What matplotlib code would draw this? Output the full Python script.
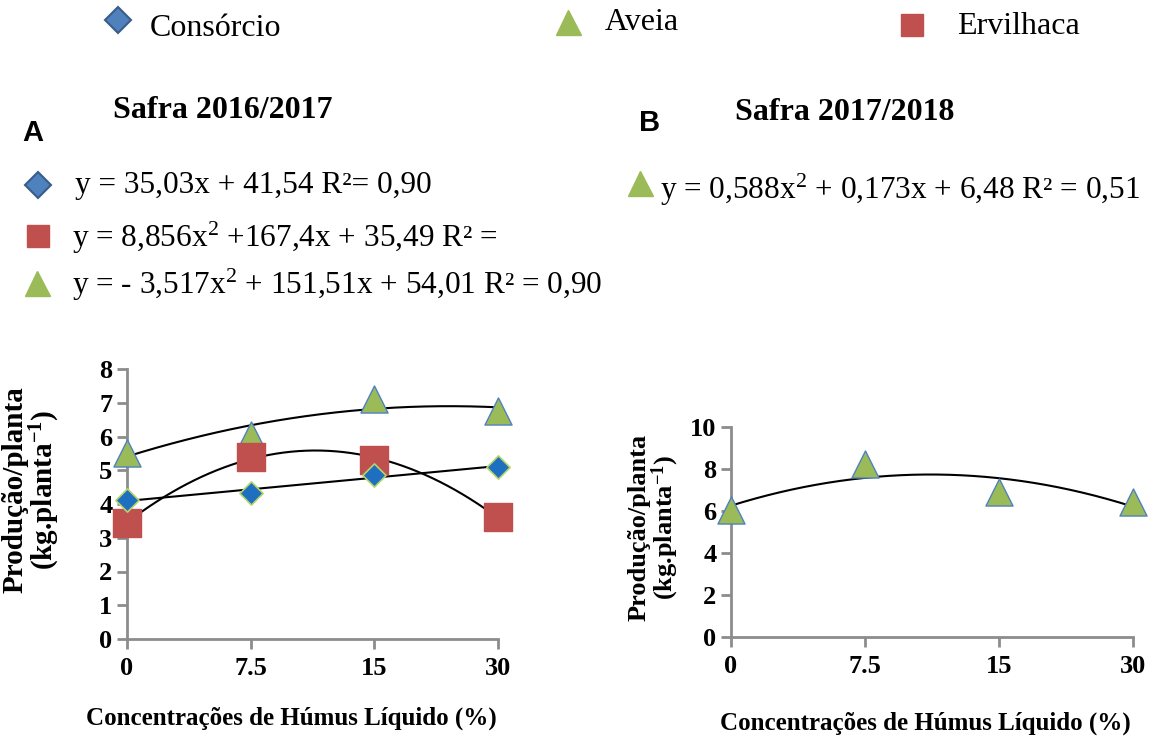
import matplotlib
matplotlib.use("Agg")
import matplotlib.pyplot as plt
import numpy as np

plt.rcParams['font.family'] = ['Liberation Serif', 'DejaVu Serif']
plt.rcParams['mathtext.fontset'] = 'custom'
plt.rcParams['mathtext.rm'] = 'Liberation Serif'
plt.rcParams['mathtext.bf'] = 'Liberation Serif:bold'
plt.rcParams['mathtext.default'] = 'rm'

# dados
concentracoes = ["0", "7.5", "15", "30"]
consorcio_a = [4.13, 4.33, 4.87, 5.10]
aveia_a = [5.50, 6.05, 7.10, 6.77]
ervilhaca_a = [3.43, 5.40, 5.31, 3.61]
aveia_b = [6.04, 8.22, 6.92, 6.42]

azul = "#1F6FC0"
verde = "#9BBB59"
vermelho = "#C0504D"
cinza = "#8C8C8C"

fig = plt.figure(figsize=(11.55, 7.42), dpi=100)


def px(x, y):
    return x / 1155, 1 - y / 742


def estilo_eixo(ax, ymax, passo):
    ax.set_xlim(0, 3)
    ax.set_ylim(0, ymax)
    ax.set_xticks(range(4))
    ax.set_xticklabels(concentracoes)
    ax.set_yticks(np.arange(0, ymax + 0.1, passo))
    for s in ["top", "right"]:
        ax.spines[s].set_visible(False)
    for s in ["left", "bottom"]:
        ax.spines[s].set_color(cinza)
        ax.spines[s].set_linewidth(2)
    ax.tick_params(colors=cinza, width=2, length=7, labelcolor="black",
                   labelsize=19)
    ax.tick_params(axis="x", pad=6)
    for lb in ax.get_xticklabels() + ax.get_yticklabels():
        lb.set_fontweight("bold")


def tendencia(ax, y, grau):
    xs = np.arange(len(y))
    coef = np.polyfit(xs, y, grau)
    xx = np.linspace(0, len(y) - 1, 200)
    ax.plot(xx, np.polyval(coef, xx), color="black", lw=1.5, zorder=2)


def marcador(x, y, **kw):
    fig.lines.append(plt.Line2D([x / 1155], [1 - y / 742], lw=0,
                                transform=fig.transFigure, **kw))


# grafico A
ax1 = fig.add_axes([127 / 1155, 1 - 639 / 742, 371 / 1155, 270 / 742])
x = np.arange(4)
tendencia(ax1, aveia_a, 2)
tendencia(ax1, ervilhaca_a, 2)
tendencia(ax1, consorcio_a, 1)
ax1.scatter(x, aveia_a, marker="^", s=380, color=verde, edgecolors="#4F81BD",
            linewidths=1, zorder=3, clip_on=False)
ax1.scatter(x, ervilhaca_a, marker="s", s=420, color=vermelho, zorder=3,
            clip_on=False)
ax1.scatter(x, consorcio_a, marker="D", s=140, color=azul, edgecolors="#B5D56A",
            linewidths=1.2, zorder=4, clip_on=False)
estilo_eixo(ax1, 8, 1)

# grafico B
ax2 = fig.add_axes([731 / 1155, 1 - 637 / 742, 402 / 1155, 210 / 742])
tendencia(ax2, aveia_b, 2)
ax2.scatter(x, aveia_b, marker="^", s=380, color=verde, edgecolors="#4F81BD",
            linewidths=1, zorder=3, clip_on=False)
estilo_eixo(ax2, 10, 2)

# rotulos dos eixos
ylab = "Produção/planta\n(kg.planta$^{\\mathbf{-1}}$)"
fig.text(*px(32, 490), ylab, rotation=90, ha="center", va="center",
         fontsize=21, fontweight="bold", linespacing=0.95)
fig.text(*px(654, 527), ylab, rotation=90, ha="center", va="center",
         fontsize=19, fontweight="bold", linespacing=0.95)
fig.text(*px(291, 718), "Concentrações de Húmus Líquido (%)", ha="center",
         va="center", fontsize=18, fontweight="bold")
fig.text(*px(925, 723), "Concentrações de Húmus Líquido (%)", ha="center",
         va="center", fontsize=18, fontweight="bold")

# legenda superior
marcador(118, 20, marker="D", markersize=13, color="#4F81BD",
         markeredgecolor="#385D8A", markeredgewidth=1.5)
fig.text(*px(150, 28), "Consórcio", va="center", fontsize=23)
marcador(568, 22, marker="^", markersize=18, color=verde)
fig.text(*px(605, 22), "Aveia", va="center", fontsize=23)
marcador(912, 25, marker="s", markersize=16, color=vermelho)
fig.text(*px(957, 27), "Ervilhaca", va="center", fontsize=23)

# titulos
fig.text(*px(223, 110), "Safra 2016/2017", ha="center", va="center",
         fontsize=23, fontweight="bold")
fig.text(*px(845, 112), "Safra 2017/2018", ha="center", va="center",
         fontsize=23, fontweight="bold")
fig.text(*px(33, 133), "A", ha="center", va="center", fontsize=21,
         fontweight="bold", family="Liberation Sans")
fig.text(*px(650, 123), "B", ha="center", va="center", fontsize=21,
         fontweight="bold", family="Liberation Sans")

# equacoes
marcador(38, 185, marker="D", markersize=13, color="#4F81BD",
         markeredgecolor="#385D8A", markeredgewidth=1.5)
fig.text(*px(75, 185), "y = 35,03x + 41,54 R²= 0,90", va="center", fontsize=22.5)
marcador(38, 236, marker="s", markersize=16, color=vermelho)
fig.text(*px(72, 238), "y = 8,856x$^{2}$ +167,4x + 35,49 R² =", va="center",
         fontsize=22.5)
marcador(37, 283, marker="^", markersize=18, color=verde)
fig.text(*px(72, 285), "y = - 3,517x$^{2}$ + 151,51x + 54,01 R² = 0,90",
         va="center", fontsize=22.5)
marcador(640, 183, marker="^", markersize=18, color=verde)
fig.text(*px(660, 190), "y = 0,588x$^{2}$ + 0,173x + 6,48 R² = 0,51",
         va="center", fontsize=22.5)

fig.savefig("out.png", dpi=100)
